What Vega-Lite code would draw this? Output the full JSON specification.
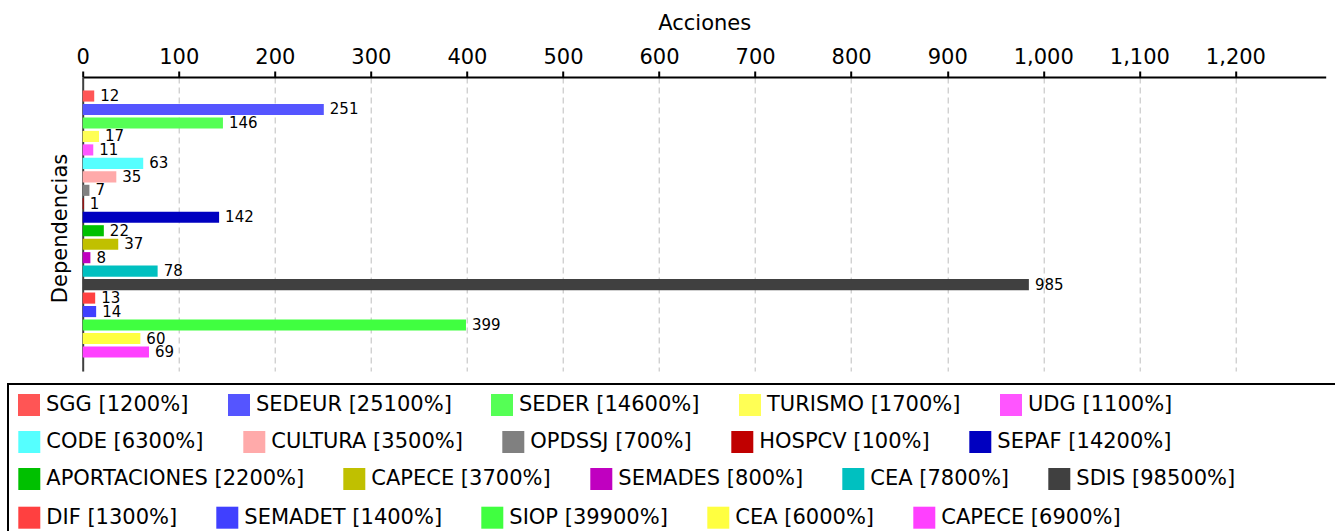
{
  "$schema": "https://vega.github.io/schema/vega-lite/v6.json",
  "width": 1243,
  "height": 294,
  "autosize": {"type": "none"},
  "padding": {"left": 82.7, "top": 77, "right": 9.3, "bottom": 160},
  "background": "white",
  "config": {
    "font": "DejaVu Sans",
    "view": {"stroke": null},
    "legend": {
      "orient": "none",
      "direction": "horizontal",
      "columns": 5,
      "columnPadding": 39,
      "strokeWidth": 2,
      "symbolType": "square",
      "symbolSize": 484,
      "symbolStrokeWidth": 0,
      "symbolOpacity": 1,
      "labelFontSize": 21,
      "labelColor": "black",
      "labelOffset": 6,
      "labelLimit": 500
    }
  },
  "data": {
    "values": [
      {"dependencia": "SGG", "etiqueta": "SGG [1200%]", "acciones": 12},
      {"dependencia": "SEDEUR", "etiqueta": "SEDEUR [25100%]", "acciones": 251},
      {"dependencia": "SEDER", "etiqueta": "SEDER [14600%]", "acciones": 146},
      {"dependencia": "TURISMO", "etiqueta": "TURISMO [1700%]", "acciones": 17},
      {"dependencia": "UDG", "etiqueta": "UDG [1100%]", "acciones": 11},
      {"dependencia": "CODE", "etiqueta": "CODE [6300%]", "acciones": 63},
      {"dependencia": "CULTURA", "etiqueta": "CULTURA [3500%]", "acciones": 35},
      {"dependencia": "OPDSSJ", "etiqueta": "OPDSSJ [700%]", "acciones": 7},
      {"dependencia": "HOSPCV", "etiqueta": "HOSPCV [100%]", "acciones": 1},
      {"dependencia": "SEPAF", "etiqueta": "SEPAF [14200%]", "acciones": 142},
      {"dependencia": "APORTACIONES", "etiqueta": "APORTACIONES [2200%]", "acciones": 22},
      {"dependencia": "CAPECE", "etiqueta": "CAPECE [3700%]", "acciones": 37},
      {"dependencia": "SEMADES", "etiqueta": "SEMADES [800%]", "acciones": 8},
      {"dependencia": "CEA", "etiqueta": "CEA [7800%]", "acciones": 78},
      {"dependencia": "SDIS", "etiqueta": "SDIS [98500%]", "acciones": 985},
      {"dependencia": "DIF", "etiqueta": "DIF [1300%]", "acciones": 13},
      {"dependencia": "SEMADET", "etiqueta": "SEMADET [1400%]", "acciones": 14},
      {"dependencia": "SIOP", "etiqueta": "SIOP [39900%]", "acciones": 399},
      {"dependencia": "CEA", "etiqueta": "CEA [6000%]", "acciones": 60},
      {"dependencia": "CAPECE", "etiqueta": "CAPECE [6900%]", "acciones": 69}
    ]
  },
  "encoding": {
    "y": {
      "field": "etiqueta",
      "type": "nominal",
      "sort": null,
      "scale": {"paddingInner": 0.175, "paddingOuter": 1.1},
      "axis": {
        "orient": "left",
        "title": "Dependencias",
        "titleFontSize": 21,
        "titleFontWeight": "normal",
        "titleColor": "black",
        "titlePadding": 12,
        "titleY": 151,
        "labels": false,
        "ticks": false,
        "domainColor": "#404040",
        "domainWidth": 2
      }
    },
    "x": {
      "field": "acciones",
      "type": "quantitative",
      "scale": {"domain": [0, 1294], "nice": false, "zero": true},
      "axis": {
        "orient": "top",
        "title": "Acciones",
        "titleFontSize": 21,
        "titleFontWeight": "normal",
        "titleColor": "black",
        "titlePadding": 13,
        "values": [0, 100, 200, 300, 400, 500, 600, 700, 800, 900, 1000, 1100, 1200],
        "format": ",d",
        "labelFontSize": 21,
        "labelColor": "black",
        "labelPadding": 4,
        "labelFlush": false,
        "labelOverlap": false,
        "domainColor": "black",
        "domainWidth": 2,
        "tickColor": "black",
        "tickWidth": 2,
        "tickSize": 6,
        "grid": true,
        "gridColor": "#bdbdbd",
        "gridWidth": 1,
        "gridDash": [6, 4]
      }
    }
  },
  "layer": [
    {
      "mark": {"type": "text", "align": "left", "baseline": "middle", "dx": 6, "fontSize": 15, "color": "black"},
      "encoding": {
        "text": {"field": "acciones", "type": "quantitative"}
      }
    },
    {
      "transform": [{"filter": {"field": "etiqueta", "oneOf": ["SGG [1200%]", "SEDEUR [25100%]", "SEDER [14600%]", "TURISMO [1700%]", "UDG [1100%]"]}}],
      "mark": {"type": "bar"},
      "encoding": {
        "color": {
          "field": "etiqueta",
          "type": "nominal",
          "scale": {
            "domain": ["SGG [1200%]", "SEDEUR [25100%]", "SEDER [14600%]", "TURISMO [1700%]", "UDG [1100%]"],
            "range": ["#ff5555", "#5555ff", "#55ff55", "#ffff55", "#ff55ff"]
          },
          "legend": {
            "legendX": -74.7,
            "legendY": 307,
            "padding": 10,
            "strokeColor": "black",
            "title": "\u00a0",
            "titleOrient": "right",
            "titleFontSize": 240,
            "titlePadding": 160
          }
        }
      }
    },
    {
      "transform": [{"filter": {"field": "etiqueta", "oneOf": ["CODE [6300%]", "CULTURA [3500%]", "OPDSSJ [700%]", "HOSPCV [100%]", "SEPAF [14200%]"]}}],
      "mark": {"type": "bar"},
      "encoding": {
        "color": {
          "field": "etiqueta",
          "type": "nominal",
          "scale": {
            "domain": ["CODE [6300%]", "CULTURA [3500%]", "OPDSSJ [700%]", "HOSPCV [100%]", "SEPAF [14200%]"],
            "range": ["#55ffff", "#ffaaaa", "#808080", "#c00000", "#0000c0"]
          },
          "legend": {"legendX": -64.4, "legendY": 354, "padding": 0, "title": null}
        }
      }
    },
    {
      "transform": [{"filter": {"field": "etiqueta", "oneOf": ["APORTACIONES [2200%]", "CAPECE [3700%]", "SEMADES [800%]", "CEA [7800%]", "SDIS [98500%]"]}}],
      "mark": {"type": "bar"},
      "encoding": {
        "color": {
          "field": "etiqueta",
          "type": "nominal",
          "scale": {
            "domain": ["APORTACIONES [2200%]", "CAPECE [3700%]", "SEMADES [800%]", "CEA [7800%]", "SDIS [98500%]"],
            "range": ["#00c000", "#c0c000", "#c000c0", "#00c0c0", "#404040"]
          },
          "legend": {"legendX": -64.4, "legendY": 391, "padding": 0, "title": null}
        }
      }
    },
    {
      "transform": [{"filter": {"field": "etiqueta", "oneOf": ["DIF [1300%]", "SEMADET [1400%]", "SIOP [39900%]", "CEA [6000%]", "CAPECE [6900%]"]}}],
      "mark": {"type": "bar"},
      "encoding": {
        "color": {
          "field": "etiqueta",
          "type": "nominal",
          "scale": {
            "domain": ["DIF [1300%]", "SEMADET [1400%]", "SIOP [39900%]", "CEA [6000%]", "CAPECE [6900%]"],
            "range": ["#ff4040", "#4040ff", "#40ff40", "#ffff40", "#ff40ff"]
          },
          "legend": {"legendX": -64.4, "legendY": 429.7, "padding": 0, "title": null}
        }
      }
    }
  ],
  "resolve": {"scale": {"color": "independent"}, "legend": {"color": "independent"}}
}
